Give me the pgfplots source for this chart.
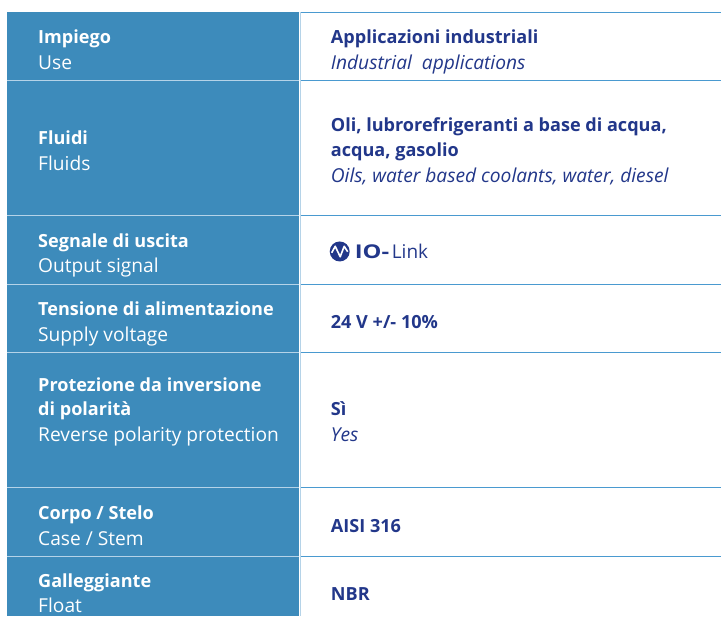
\documentclass[border=0pt]{standalone}
\usepackage{fontspec}
\setmainfont{Open Sans}
\usepackage{pgfplots}
\pgfplotsset{compat=1.18}
\definecolor{cellblue}{HTML}{3D8BBB}
\definecolor{navy}{HTML}{22378A}
\definecolor{rulec}{HTML}{4A9AD0}
\definecolor{seplight}{HTML}{B5D3E8}
\newcommand{\fs}{\fontsize{19.2}{22}\selectfont}
\newcommand{\fb}{\fontsize{18.1}{22}\selectfont\bfseries}
\begin{document}
\begin{tikzpicture}
\begin{axis}[scale only axis, width=722pt, height=617pt,
  xmin=0, xmax=722, ymin=0, ymax=617, y dir=reverse,
  hide axis, clip=false]
\fill[white] (axis cs:0,0) rectangle (axis cs:722,617);
\fill[cellblue] (axis cs:7.5,12.5) rectangle (axis cs:299.5,617);
% right column rules
\draw[rulec, line width=1.3pt] (axis cs:300,12.5) -- (axis cs:722,12.5);
\draw[rulec, line width=1.3pt] (axis cs:300,80.5) -- (axis cs:722,80.5);
\draw[rulec, line width=1.3pt] (axis cs:300,216) -- (axis cs:722,216);
\draw[rulec, line width=1.3pt] (axis cs:300,285) -- (axis cs:722,285);
\draw[rulec, line width=1.3pt] (axis cs:300,353) -- (axis cs:722,353);
\draw[rulec, line width=1.3pt] (axis cs:300,488) -- (axis cs:722,488);
\draw[rulec, line width=1.3pt] (axis cs:300,557) -- (axis cs:722,557);
% left column separators
\draw[seplight, line width=1.3pt] (axis cs:7.5,80.5) -- (axis cs:299.5,80.5);
\draw[seplight, line width=1.3pt] (axis cs:7.5,216) -- (axis cs:299.5,216);
\draw[seplight, line width=1.3pt] (axis cs:7.5,285) -- (axis cs:299.5,285);
\draw[seplight, line width=1.3pt] (axis cs:7.5,353) -- (axis cs:299.5,353);
\draw[seplight, line width=1.3pt] (axis cs:7.5,488) -- (axis cs:299.5,488);
\draw[seplight, line width=1.3pt] (axis cs:7.5,557) -- (axis cs:299.5,557);
% vertical separator
\draw[seplight, line width=1pt] (axis cs:300.3,12.5) -- (axis cs:300.3,617);
% left column text
\begin{scope}[every node/.style={anchor=base west, inner sep=0pt, text=white}]
\node[font=\fb] at (axis cs:38,44) {Impiego};
\node[font=\fs] at (axis cs:38,70) {Use};
\node[font=\fb] at (axis cs:38,145) {Fluidi};
\node[font=\fs] at (axis cs:38,171) {Fluids};
\node[font=\fb] at (axis cs:38,248) {Segnale di uscita};
\node[font=\fs] at (axis cs:38,273) {Output signal};
\node[font=\fb] at (axis cs:38,316) {Tensione di alimentazione};
\node[font=\fs] at (axis cs:38,342) {Supply voltage};
\node[font=\fb] at (axis cs:38,392) {Protezione da inversione};
\node[font=\fb] at (axis cs:38,416) {di polarità};
\node[font=\fs] at (axis cs:38,442) {Reverse polarity protection};
\node[font=\fb] at (axis cs:38,520) {Corpo / Stelo};
\node[font=\fs] at (axis cs:38,546) {Case / Stem};
\node[font=\fb] at (axis cs:38,588) {Galleggiante};
\node[font=\fs] at (axis cs:38,613) {Float};
\end{scope}
% right column text
\begin{scope}[every node/.style={anchor=base west, inner sep=0pt, text=navy}]
\node[font=\fb] at (axis cs:331,44) {Applicazioni industriali};
\node[font=\fs\itshape] at (axis cs:331,70) {Industrial\ \ applications};
\node[font=\fb] at (axis cs:331,132) {Oli, lubrorefrigeranti a base di acqua,};
\node[font=\fb] at (axis cs:331,157) {acqua, gasolio};
\node[font=\fs\itshape] at (axis cs:331,183) {Oils, water based coolants, water, diesel};
\node[font=\fb] at (axis cs:331,329) {24 V +/- 10\%};
\node[font=\fb] at (axis cs:331,416) {Sì};
\node[font=\fs\itshape] at (axis cs:331,442) {Yes};
\node[font=\fb] at (axis cs:331,533) {AISI 316};
\node[font=\fb] at (axis cs:331,601) {NBR};
% IO-Link logo
\fill[navy] (axis cs:340,251.7) circle[radius=10];
\draw[white, line width=1.6pt, line join=round] (axis cs:332,253) -- (axis cs:335.5,246.5) -- (axis cs:340.5,257) -- (axis cs:344.5,246.5) -- (axis cs:348,252);
\node[font=\fontsize{19}{22}\selectfont\bfseries] at (axis cs:355,259) {\scalebox{1.25}[1]{IO-}};
\node[font=\fontsize{19}{22}\selectfont] at (axis cs:392,259) {Link};
\end{scope}
\end{axis}
\end{tikzpicture}
\end{document}
